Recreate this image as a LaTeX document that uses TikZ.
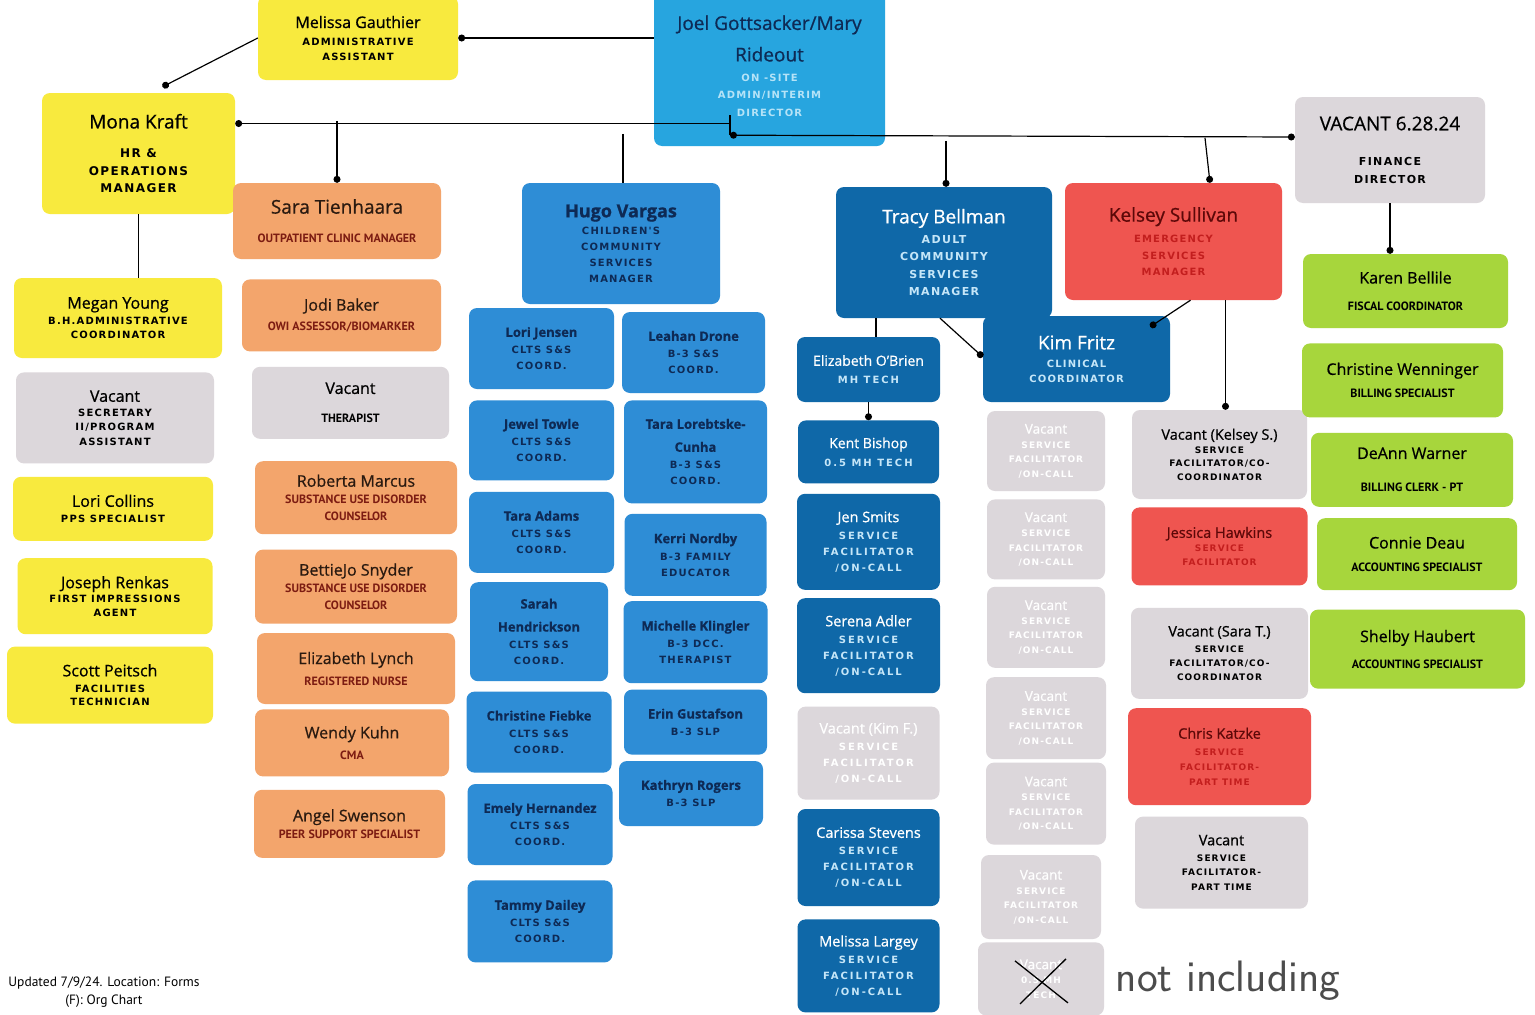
\documentclass[tikz,border=0pt]{standalone}
\usepackage{fontspec}
\setmainfont{Open Sans}[FakeBold=0.7]
\newfontfamily\spfont{DejaVu Sans}[LetterSpace=12]
\newfontfamily\wsfont{DejaVu Sans}[LetterSpace=20]
\newfontfamily\cdfont{PT Sans}
\usepackage{tikz}
\usetikzlibrary{arrows}
\usetikzlibrary{positioning}

\definecolor{yelC}{HTML}{F8EA3E}
\definecolor{orgC}{HTML}{F3A56C}
\definecolor{gryC}{HTML}{DCD7DB}
\definecolor{cynC}{HTML}{27A5DF}
\definecolor{bluC}{HTML}{2E8DD6}
\definecolor{dbluC}{HTML}{0F68A8}
\definecolor{redC}{HTML}{EF5550}
\definecolor{grnC}{HTML}{A7D63C}
\definecolor{orgN}{HTML}{2A1A10}
\definecolor{orgT}{HTML}{7C1C12}
\definecolor{bluN}{HTML}{0E2A55}
\definecolor{cynT}{HTML}{B5E3F7}
\definecolor{dbluT}{HTML}{C5E6F8}
\definecolor{redN}{HTML}{5C0808}
\definecolor{redT}{HTML}{C31E1E}

\newcommand{\ttlcol}{black}
\newcommand{\nm}[2][16]{{\fontsize{#1}{#1}\selectfont #2}}
\newcommand{\nmb}[2][13]{{\bfseries\fontsize{#1}{#1}\selectfont #2}}
\newcommand{\ttl}[2][10]{{\spfont\bfseries\fontsize{#1}{#1}\selectfont\color{\ttlcol}#2}}
\newcommand{\ttw}[2][10]{{\wsfont\bfseries\fontsize{#1}{#1}\selectfont\color{\ttlcol}#2}}
\newcommand{\tcd}[2][12]{{\cdfont\bfseries\fontsize{#1}{#1}\selectfont\color{\ttlcol}#2}}

\begin{document}
\begin{tikzpicture}[x=1pt, y=1pt,
  card/.style={
    % The shape:
    rectangle, rounded corners=8pt,
    % The text:
    align=center, inner sep=2pt,
    font=\fontsize{10}{13}\selectfont},
  sz/.style 2 args={minimum width=#1, minimum height=#2},
  lh/.style={font=\fontsize{10}{#1}\selectfont},
  tc/.code={\def\ttlcol{#1}},
  yel/.style={card, fill=yelC, text=black, tc=black},
  org/.style={card, fill=orgC, text=orgN, tc=orgT},
  gry/.style={card, fill=gryC, text=black, tc=black},
  gryw/.style={card, fill=gryC, text=white, tc=white},
  cyn/.style={card, fill=cynC, text=bluN, tc=cynT},
  blu/.style={card, fill=bluC, text=bluN, tc=bluN},
  dblu/.style={card, fill=dbluC, text=white, tc=dbluT},
  redb/.style={card, fill=redC, text=redN, tc=redT},
  grn/.style={card, fill=grnC, text=black, tc=black},
  link/.style={line width=1.2pt, draw=black}]

  \useasboundingbox (0,0) rectangle (1535,-1015);
  \clip (0,0) rectangle (1535,-1015);
  \fill[white] (0,0) rectangle (1535,-1015);

  % top
  \node (joel) [cyn, lh=17.5, sz={231}{160}] at (769.5,-66) {\nm[19]{Joel Gottsacker/Mary}\\[11.5pt]\nm[19]{Rideout}\\[2.5pt]\ttl{ON -SITE}\\\ttl{ADMIN/INTERIM}\\\ttl{DIRECTOR}};
  \node (mg) [yel, lh=15, sz={200}{84}] at (358,-38) {\nm{Melissa Gauthier}\\[2pt]\ttl{ADMINISTRATIVE}\\\ttl{ASSISTANT}};

  % HR and operations
  \node (mona) [yel, lh=17.5, sz={193}{121}] at (138.5,-153.5) {\nm[19]{Mona Kraft}\\[12pt]\ttl[12]{HR \&}\\\ttl[12]{OPERATIONS}\\\ttl[12]{MANAGER}};
  \node (megan) [yel, lh=14, sz={208}{80}] at (118,-318) {\nm{Megan Young}\\[2pt]\ttl{B.H.ADMINISTRATIVE}\\\ttl{COORDINATOR}};
  \node (vsec) [gry, lh=14.5, sz={198}{91}, below=14pt of megan, xshift=-3pt] {\nm{Vacant}\\\ttl{SECRETARY}\\\ttl{II/PROGRAM}\\\ttl{ASSISTANT}};
  \node (lori) [yel, lh=16, sz={200}{64}, below=13pt of vsec, xshift=-2pt] {\nm{Lori Collins}\\\ttl{PPS SPECIALIST}};
  \node (joseph) [yel, lh=14, sz={195}{76}, below=17pt of lori, xshift=2pt] {\nm{Joseph Renkas}\\\ttl{FIRST IMPRESSIONS}\\\ttl{AGENT}};
  \node (scott) [yel, lh=13.5, sz={206}{77}, below=12pt of joseph, xshift=-5pt] {\nm{Scott Peitsch}\\[2.5pt]\ttl{FACILITIES}\\\ttl{TECHNICIAN}};

  % outpatient clinic
  \node (sara) [org, lh=13, sz={208}{76}] at (337,-221) {\nm[19]{Sara Tienhaara}\\[16pt]\tcd{OUTPATIENT CLINIC MANAGER}};
  \node (jodi) [org, lh=13, sz={199}{72}, below=20pt of sara, xshift=4.5pt] {\nm{Jodi Baker}\\[7pt]\tcd{OWI ASSESSOR/BIOMARKER}};
  \node (vther) [gry, lh=13, sz={197}{72}, below=15pt of jodi, xshift=9pt] {\nm{Vacant}\\[16pt]\tcd{THERAPIST}};
  \node (roberta) [org, lh=17, sz={202}{73}, below=22pt of vther, xshift=5.5pt] {\nm{Roberta Marcus}\\\tcd{SUBSTANCE USE DISORDER}\\\tcd{COUNSELOR}};
  \node (bettie) [org, lh=17, sz={202}{74}, below=15pt of roberta] {\nm{BettieJo Snyder}\\\tcd{SUBSTANCE USE DISORDER}\\\tcd{COUNSELOR}};
  \node (elynch) [org, lh=13, sz={198}{71}, below=9pt of bettie] {\nm{Elizabeth Lynch}\\[8pt]\tcd{REGISTERED NURSE}};
  \node (wendy) [org, lh=13, sz={194}{67}, below=5pt of elynch, xshift=-4pt] {\nm{Wendy Kuhn}\\[8pt]\tcd{CMA}};
  \node (angel) [org, lh=17, sz={191}{68}, below=13pt of wendy, xshift=-2.5pt] {\nm{Angel Swenson}\\\tcd{PEER SUPPORT SPECIALIST}};

  % children's services
  \node (hugo) [blu, lh=16, sz={198}{121}] at (621,-243.5) {\nmb[18]{Hugo Vargas}\\[1pt]\ttl{CHILDREN'S}\\\ttl{COMMUNITY}\\\ttl{SERVICES}\\\ttl{MANAGER}};
  \node (lj) [blu, lh=16, sz={145}{81}] at (541.5,-348.5) {\nmb{Lori Jensen}\\[1pt]\ttl{CLTS S\&S}\\\ttl{COORD.}};
  \node (jt) [blu, lh=16, sz={145}{80}, below=11pt of lj] {\nmb{Jewel Towle}\\[1pt]\ttl{CLTS S\&S}\\\ttl{COORD.}};
  \node (ta) [blu, lh=16, sz={145}{81}, below=11pt of jt] {\nmb{Tara Adams}\\[1pt]\ttl{CLTS S\&S}\\\ttl{COORD.}};
  \node (sh) [blu, lh=16, sz={138}{99}, below=9pt of ta, xshift=-2.5pt] {\nmb{Sarah}\\[7pt]\nmb{Hendrickson}\\[1pt]\ttl{CLTS S\&S}\\\ttl{COORD.}};
  \node (cf) [blu, lh=16, sz={145}{81}, below=10pt of sh] {\nmb{Christine Fiebke}\\[1pt]\ttl{CLTS S\&S}\\\ttl{COORD.}};
  \node (eh) [blu, lh=16, sz={145}{81}, below=11pt of cf, xshift=1pt] {\nmb{Emely Hernandez}\\[1pt]\ttl{CLTS S\&S}\\\ttl{COORD.}};
  \node (td) [blu, lh=16, sz={145}{82}, below=15pt of eh] {\nmb{Tammy Dailey}\\[1pt]\ttl{CLTS S\&S}\\\ttl{COORD.}};

  \node (ld) [blu, lh=16, sz={143}{81}] at (693.5,-352.5) {\nmb{Leahan Drone}\\[1pt]\ttl{B-3 S\&S}\\\ttl{COORD.}};
  \node (tlc) [blu, lh=16, sz={143}{103}, below=7pt of ld, xshift=2pt] {\nmb{Tara Lorebtske-}\\[7pt]\nmb{Cunha}\\[1pt]\ttl{B-3 S\&S}\\\ttl{COORD.}};
  \node (kn) [blu, lh=16, sz={142}{82}, below=10pt of tlc] {\nmb{Kerri Nordby}\\[1pt]\ttl{B-3 FAMILY}\\\ttl{EDUCATOR}};
  \node (mk) [blu, lh=16, sz={144}{82}, below=5pt of kn] {\nmb{Michelle Klingler}\\[1pt]\ttl{B-3 DCC.}\\\ttl{THERAPIST}};
  \node (eg) [blu, lh=17, sz={143}{65}, below=6pt of mk] {\nmb{Erin Gustafson}\\\ttl{B-3 SLP}};
  \node (kr) [blu, lh=17, sz={144}{65}, below=6pt of eg, xshift=-4.5pt] {\nmb{Kathryn Rogers}\\\ttl{B-3 SLP}};

  % adult services
  \node (tracy) [dblu, lh=17.5, sz={216}{131}] at (944,-252.5) {\nm[19]{Tracy Bellman}\\[2.5pt]\ttl[11]{ADULT}\\\ttl[11]{COMMUNITY}\\\ttl[11]{SERVICES}\\\ttl[11]{MANAGER}};
  \node (kim) [dblu, lh=15, sz={187}{86}] at (1076.5,-359) {\nm[19]{Kim Fritz}\\[3pt]\ttl{CLINICAL}\\\ttl{COORDINATOR}};
  \node (eob) [dblu, lh=18, sz={143}{65}] at (868.5,-369.5) {\nm[14]{Elizabeth O'Brien}\\\ttw{MH TECH}};
  \node (kent) [dblu, lh=18, sz={141}{63}, below=18pt of eob] {\nm[14]{Kent Bishop}\\\ttw{0.5 MH TECH}};
  \node (jen) [dblu, lh=16, sz={143}{96}, below=10pt of kent] {\nm[14.5]{Jen Smits}\\[1pt]\ttw{SERVICE}\\\ttw{FACILITATOR}\\\ttw{/ON-CALL}};
  \node (serena) [dblu, lh=16, sz={143}{95}, below=8pt of jen] {\nm[14.5]{Serena Adler}\\[1pt]\ttw{SERVICE}\\\ttw{FACILITATOR}\\\ttw{/ON-CALL}};
  \node (vkim) [gryw, lh=16, sz={142}{93}, below=13pt of serena] {\nm[14.5]{Vacant (Kim F.)}\\[1pt]\ttw{SERVICE}\\\ttw{FACILITATOR}\\\ttw{/ON-CALL}};
  \node (carissa) [dblu, lh=16, sz={142}{97}, below=9pt of vkim] {\nm[14.5]{Carissa Stevens}\\[1pt]\ttw{SERVICE}\\\ttw{FACILITATOR}\\\ttw{/ON-CALL}};
  \node (mlargey) [dblu, lh=16, sz={142}{93}, below=13pt of carissa] {\nm[14.5]{Melissa Largey}\\[1pt]\ttw{SERVICE}\\\ttw{FACILITATOR}\\\ttw{/ON-CALL}};

  \node (va) [gryw, lh=14.5, sz={118}{80}] at (1046,-451) {\nm[13.5]{Vacant}\\\ttl[9]{SERVICE}\\\ttl[9]{FACILITATOR}\\\ttl[9]{/ON-CALL}};
  \node (vb) [gryw, lh=14.5, sz={118}{80}, below=8pt of va] {\nm[13.5]{Vacant}\\\ttl[9]{SERVICE}\\\ttl[9]{FACILITATOR}\\\ttl[9]{/ON-CALL}};
  \node (vc) [gryw, lh=14.5, sz={118}{81}, below=7pt of vb] {\nm[13.5]{Vacant}\\\ttl[9]{SERVICE}\\\ttl[9]{FACILITATOR}\\\ttl[9]{/ON-CALL}};
  \node (vd) [gryw, lh=14.5, sz={120}{82}, below=9pt of vc] {\nm[13.5]{Vacant}\\\ttl[9]{SERVICE}\\\ttl[9]{FACILITATOR}\\\ttl[9]{/ON-CALL}};
  \node (ve) [gryw, lh=14.5, sz={120}{82}, below=3pt of vd] {\nm[13.5]{Vacant}\\\ttl[9]{SERVICE}\\\ttl[9]{FACILITATOR}\\\ttl[9]{/ON-CALL}};
  \node (vf) [gryw, lh=14.5, sz={120}{84}, below=10pt of ve, xshift=-5pt] {\nm[13.5]{Vacant}\\\ttl[9]{SERVICE}\\\ttl[9]{FACILITATOR}\\\ttl[9]{/ON-CALL}};
  \node (vg) [gryw, lh=14.5, sz={126}{73}, below=3pt of vf] {\nm[13.5]{Vacant}\\\ttl[9]{0.5 MH}\\\ttl[9]{TECH}};

  % emergency services
  \node (kel) [redb, lh=16.5, sz={217}{117}] at (1173.5,-241.5) {\nm[19]{Kelsey Sullivan}\\[4.5pt]\ttl{EMERGENCY}\\\ttl{SERVICES}\\\ttl{MANAGER}};
  \node (vks) [gry, lh=13.5, sz={175}{89}] at (1219.5,-454.5) {\nm[14.5]{Vacant (Kelsey S.)}\\\ttl[9]{SERVICE}\\\ttl[9]{FACILITATOR/CO-}\\\ttl[9]{COORDINATOR}};
  \node (jess) [redb, lh=14, sz={176}{78}, below=8pt of vks] {\nm[14.5]{Jessica Hawkins}\\\ttl[9]{SERVICE}\\\ttl[9]{FACILITATOR}};
  \node (vst) [gry, lh=14, sz={177}{91}, below=22pt of jess] {\nm[14.5]{Vacant (Sara T.)}\\[2pt]\ttl[9]{SERVICE}\\\ttl[9]{FACILITATOR/CO-}\\\ttl[9]{COORDINATOR}};
  \node (chris) [redb, lh=15, sz={183}{97}, below=9pt of vst] {\nm[14.5]{Chris Katzke}\\[2pt]\ttl[9]{SERVICE}\\\ttl[9]{FACILITATOR-}\\\ttl[9]{PART TIME}};
  \node (vpt) [gry, lh=14.5, sz={173}{92}, below=11pt of chris, xshift=2pt] {\nm[14.5]{Vacant}\\[1.5pt]\ttl[9]{SERVICE}\\\ttl[9]{FACILITATOR-}\\\ttl[9]{PART TIME}};

  % finance
  \node (fin) [gry, lh=18, sz={190}{106}] at (1390,-150) {\nm[19]{VACANT 6.28.24}\\[17pt]\ttl[11]{FINANCE}\\\ttl[11]{DIRECTOR}};
  \node (karen) [grn, lh=13, sz={205}{74}] at (1405.5,-291) {\nm{Karen Bellile}\\[14pt]\tcd{FISCAL COORDINATOR}};
  \node (cwen) [grn, lh=13, sz={201}{74}, below=15pt of karen, xshift=-3pt] {\nm{Christine Wenninger}\\[10pt]\tcd{BILLING SPECIALIST}};
  \node (deann) [grn, lh=13, sz={202}{74}, below=15pt of cwen, xshift=9.5pt] {\nm{DeAnn Warner}\\[20pt]\tcd{BILLING CLERK - PT}};
  \node (connie) [grn, lh=13, sz={200}{72}, below=11pt of deann, xshift=5pt] {\nm{Connie Deau}\\[10pt]\tcd{ACCOUNTING SPECIALIST}};
  \node (shelby) [grn, lh=13, sz={215}{79}, below=19pt of connie, xshift=0.5pt] {\nm{Shelby Haubert}\\[13pt]\tcd{ACCOUNTING SPECIALIST}};

  % connectors
  \coordinate (hubtop) at ([xshift=-39.5pt,yshift=31pt]joel.south);
  \coordinate (hubbot) at ([xshift=-39.5pt,yshift=11pt]joel.south);
  \draw[link, -*] (joel.west |- mg.east) -- (mg.east);
  \draw[link, -*] (mg.west) -- ([xshift=24pt,yshift=6pt]mona.north);
  \draw[link] (hubtop) -- (hubbot);
  \draw[link, *-] ([yshift=30pt]mona.east) -- ([yshift=30pt]mona.east -| hubtop);
  \draw[link, *-*] (hubbot) -- ([yshift=13pt]fin.west);
  \draw[link, -*] ([yshift=62pt]sara.north) -- (sara.north);
  \draw[link] ([xshift=2pt,yshift=49pt]hugo.north) -- ([xshift=2pt]hugo.north);
  \draw[link, -*] ([xshift=2pt,yshift=46pt]tracy.north) -- ([xshift=2pt]tracy.north);
  \draw[link, -*] ([xshift=31.5pt,yshift=45pt]kel.north) -- ([xshift=36.5pt]kel.north);
  \draw[link, -*] (fin.south) -- (fin.south |- karen.north);
  \draw[link] (mona.south) -- (mona.south |- megan.north);
  \draw[link] ([xshift=-68pt]tracy.south) -- ([xshift=-68pt]tracy.south |- eob.north);
  \draw[link, -*] ([xshift=-4pt]tracy.south) -- ([yshift=2pt]kim.west);
  \draw[link, -*] ([xshift=17pt]kel.south) -- ([xshift=-20pt,yshift=-11pt]kim.north east);
  \draw[link, -*] ([xshift=52pt]kel.south) -- ([xshift=52pt]kel.south |- vks.north);
  \draw[link, -*] (eob.south) -- (kent.north);

  % crossed out
  \draw[line width=1.3pt] ([xshift=-26pt,yshift=18pt]vg.center) -- ([xshift=27pt,yshift=-24pt]vg.center);
  \draw[line width=1.3pt] ([xshift=25pt,yshift=20pt]vg.center) -- ([xshift=-21pt,yshift=-25pt]vg.center);
  \node (hand) [right=8pt of vg, yshift=-2pt, font=\sffamily\fontsize{44}{44}\selectfont, text=black!70] {not including};

  \node (upd) [align=center, font=\cdfont\fontsize{13.5}{18}\selectfont] at (104,-992) {Updated 7/9/24. Location: Forms\\(F): Org Chart};
\end{tikzpicture}
\end{document}
